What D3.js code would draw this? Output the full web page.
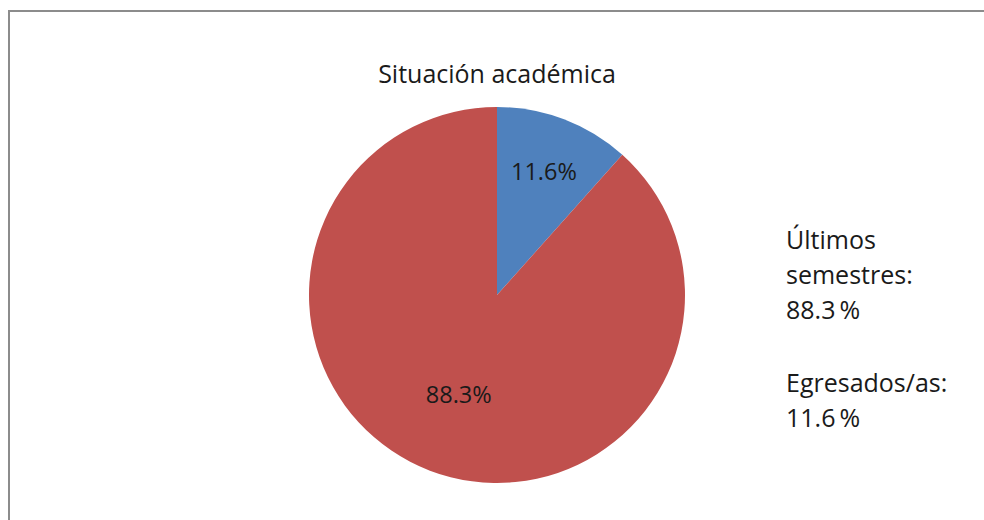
<!DOCTYPE html>
<html>
<head>
<meta charset="utf-8">
<script src="https://cdn.jsdelivr.net/npm/d3@7"></script>
<style>
  html, body { margin: 0; padding: 0; background: #fff; }
  svg { display: block; }
  text { font-family: "Open Sans", "DejaVu Sans", sans-serif; fill: #1a1a1a; }
</style>
</head>
<body>
<svg id="chart" width="984" height="520"></svg>
<script>
// Academic status of respondents (percent)
const title = "Situación académica";
const categories = ["Egresados/as", "Últimos semestres"];
const values = [11.6, 88.3];
const colors = ["#4F81BD", "#C0504D"];

const svg = d3.select("#chart");
const W = 984, H = 520;

// outer frame (continues past the right and bottom edges)
svg.append("rect")
  .attr("x", 9).attr("y", 11)
  .attr("width", W + 20).attr("height", H + 20)
  .attr("fill", "#fff")
  .attr("stroke", "#8c8c8c")
  .attr("stroke-width", 2);

svg.append("text")
  .attr("x", 497).attr("y", 83)
  .attr("text-anchor", "middle")
  .style("font-size", "25px")
  .text(title);

const cx = 497, cy = 295, r = 188;
const data = categories.map((c, i) => ({ category: c, value: values[i], color: colors[i] }));

const pie = d3.pie().sort(null).value(d => d.value);
const arcs = pie(data);
const arc = d3.arc().innerRadius(0).outerRadius(r);

const g = svg.append("g").attr("transform", `translate(${cx},${cy})`);

g.selectAll("path.slice")
  .data(arcs)
  .join("path")
  .attr("class", "slice")
  .attr("d", arc)
  .attr("fill", d => d.data.color);

// value labels inside the slices; the narrow slice gets its label further out
const labelFrac = d => (d.endAngle - d.startAngle < Math.PI / 2 ? 0.70 : 0.57);
g.selectAll("text.val")
  .data(arcs)
  .join("text")
  .attr("class", "val")
  .attr("transform", d => {
    const rr = r * labelFrac(d);
    const [x, y] = d3.arc().innerRadius(rr).outerRadius(rr).centroid(d);
    return `translate(${x},${y})`;
  })
  .attr("text-anchor", "middle")
  .attr("dy", "0.35em")
  .style("font-size", "23.5px")
  .text(d => d3.format(".1f")(d.data.value) + "%");

// legend text on the right
const legend = svg.append("g").attr("transform", "translate(786,0)");
const lineH = 35;
const blocks = [
  { lines: ["Últimos", "semestres:", d3.format(".1f")(values[1]) + "\u2009%"], y: 249 },
  { lines: [categories[0] + ":", d3.format(".1f")(values[0]) + "\u2009%"], y: 392 }
];
blocks.forEach(b => {
  b.lines.forEach((t, i) => {
    legend.append("text")
      .attr("x", 0)
      .attr("y", b.y + i * lineH)
      .style("font-size", "25px")
      .text(t);
  });
});
</script>
</body>
</html>
